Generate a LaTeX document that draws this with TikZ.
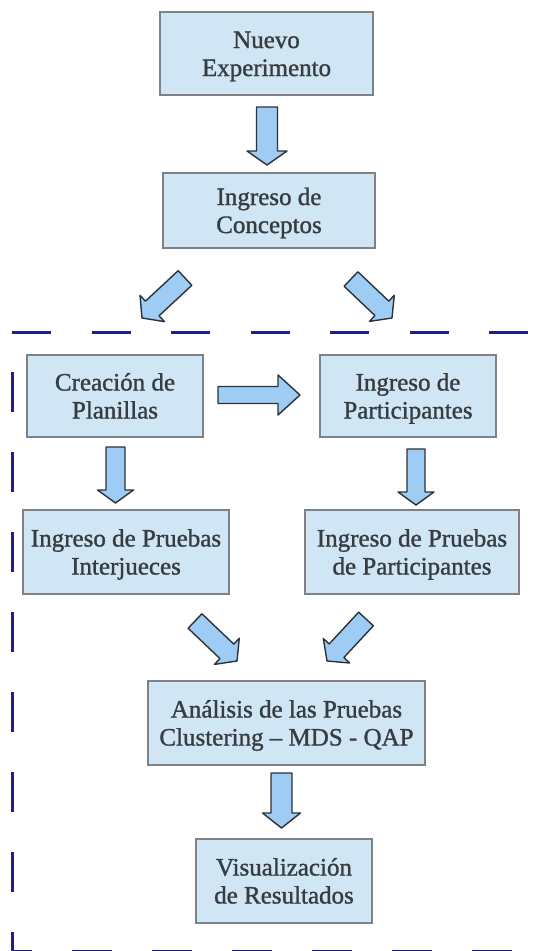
\documentclass[tikz,border=0pt]{standalone}
\usepackage{fontspec}
\setmainfont{Liberation Serif}
\newfontfamily\boxfont[FakeBold=1.2]{Liberation Serif}
\usetikzlibrary{calc}
\definecolor{boxfill}{RGB}{208,230,245}
\definecolor{boxdraw}{RGB}{125,130,135}
\definecolor{arrfill}{RGB}{158,204,245}
\definecolor{arrdraw}{RGB}{45,50,55}
\definecolor{framecol}{RGB}{35,30,130}
\definecolor{txt}{RGB}{55,60,65}
\newcommand\topstrut{\rule{0pt}{23pt}}
\tikzset{
  box/.style={draw=boxdraw, fill=boxfill, line width=1.5pt, align=center,
    inner sep=0pt, text=txt, font=\boxfont\fontsize{25}{28}\selectfont,
    execute at end node={\rule[-6pt]{0pt}{6pt}}},
  barr/.style={draw=arrdraw, fill=arrfill, line width=1.4pt, line join=round},
  frameline/.style={draw=framecol, line width=3pt}
}
% #1 tail, #2 tip, #3 shaft half width, #4 head half width, #5 head length
\newcommand\blockarr[5]{%
  \coordinate (hb) at ($(#2)!#5!(#1)$);
  \draw[barr] ($(#1)!#3!90:(#2)$) -- ($(hb)!#3!90:(#2)$) -- ($(hb)!#4!90:(#2)$)
    -- (#2) -- ($(hb)!#4!-90:(#2)$) -- ($(hb)!#3!-90:(#2)$) -- ($(#1)!#3!-90:(#2)$) -- cycle;
}
\begin{document}
\begin{tikzpicture}[x=1pt,y=-1pt]
\useasboundingbox (0,0) rectangle (542,951);
\begin{scope}
\clip (0,0) rectangle (542,951);
% dashed frame
\draw[frameline, dash pattern=on 39pt off 40.5pt] (12,332) -- (560,332);
\draw[frameline, dash pattern=on 40pt off 40pt, dash phase=40pt] (12,332) -- (12,951);
\draw[frameline, dash pattern=on 40pt off 40pt, dash phase=20pt] (12,951) -- (560,951);
\end{scope}
% boxes
\node[box, minimum width=213pt, minimum height=83pt] (n1) at (266.5,53.5) {\topstrut Nuevo\\Experimento};
\node[box, minimum width=212pt, minimum height=75pt] (n2) at (269,210.5) {\topstrut Ingreso de\\Conceptos};
\node[box, minimum width=176pt, minimum height=82pt] (n3) at (115,396) {\topstrut Creación de\\Planillas};
\node[box, minimum width=176pt, minimum height=82pt] (n4) at (408,396) {\topstrut Ingreso de\\Participantes};
\node[box, minimum width=206pt, minimum height=84pt] (n5) at (126,552) {\topstrut Ingreso de Pruebas\\Interjueces};
\node[box, minimum width=214pt, minimum height=84pt] (n6) at (412,552) {\topstrut Ingreso de Pruebas\\de Participantes};
\node[box, minimum width=277pt, minimum height=84pt] (n7) at (286.5,723) {\topstrut Análisis de las Pruebas\\Clustering – MDS - QAP};
\node[box, minimum width=176pt, minimum height=84pt] (n8) at (284,881) {\topstrut Visualización\\de Resultados};
% arrow end points
\coordinate (a1s) at (267,107);  \coordinate (a1e) at (267,165);
\coordinate (a5s) at (185,278);  \coordinate (a5e) at (142,318);
\coordinate (a6s) at (351,279);  \coordinate (a6e) at (392,318);
\coordinate (a2s) at (218,395);  \coordinate (a2e) at (300,395);
\coordinate (a3s) at (115.5,447); \coordinate (a3e) at (115.5,503);
\coordinate (a4s) at (416,449);  \coordinate (a4e) at (416,505);
\coordinate (a7s) at (195,621);  \coordinate (a7e) at (237,661);
\coordinate (a8s) at (366,619);  \coordinate (a8e) at (327,661);
\coordinate (a9s) at (281.5,773); \coordinate (a9e) at (281.5,828);
% block arrows
\blockarr{a1s}{a1e}{10.5pt}{20pt}{14pt}
\blockarr{a5s}{a5e}{10pt}{18pt}{14pt}
\blockarr{a6s}{a6e}{10pt}{18pt}{14pt}
\blockarr{a2s}{a2e}{8.5pt}{20pt}{22pt}
\blockarr{a3s}{a3e}{9.5pt}{18pt}{13pt}
\blockarr{a4s}{a4e}{9pt}{18pt}{13pt}
\blockarr{a7s}{a7e}{10pt}{18pt}{14pt}
\blockarr{a8s}{a8e}{10pt}{18pt}{14pt}
\blockarr{a9s}{a9e}{10.5pt}{19pt}{15pt}
\end{tikzpicture}
\end{document}
